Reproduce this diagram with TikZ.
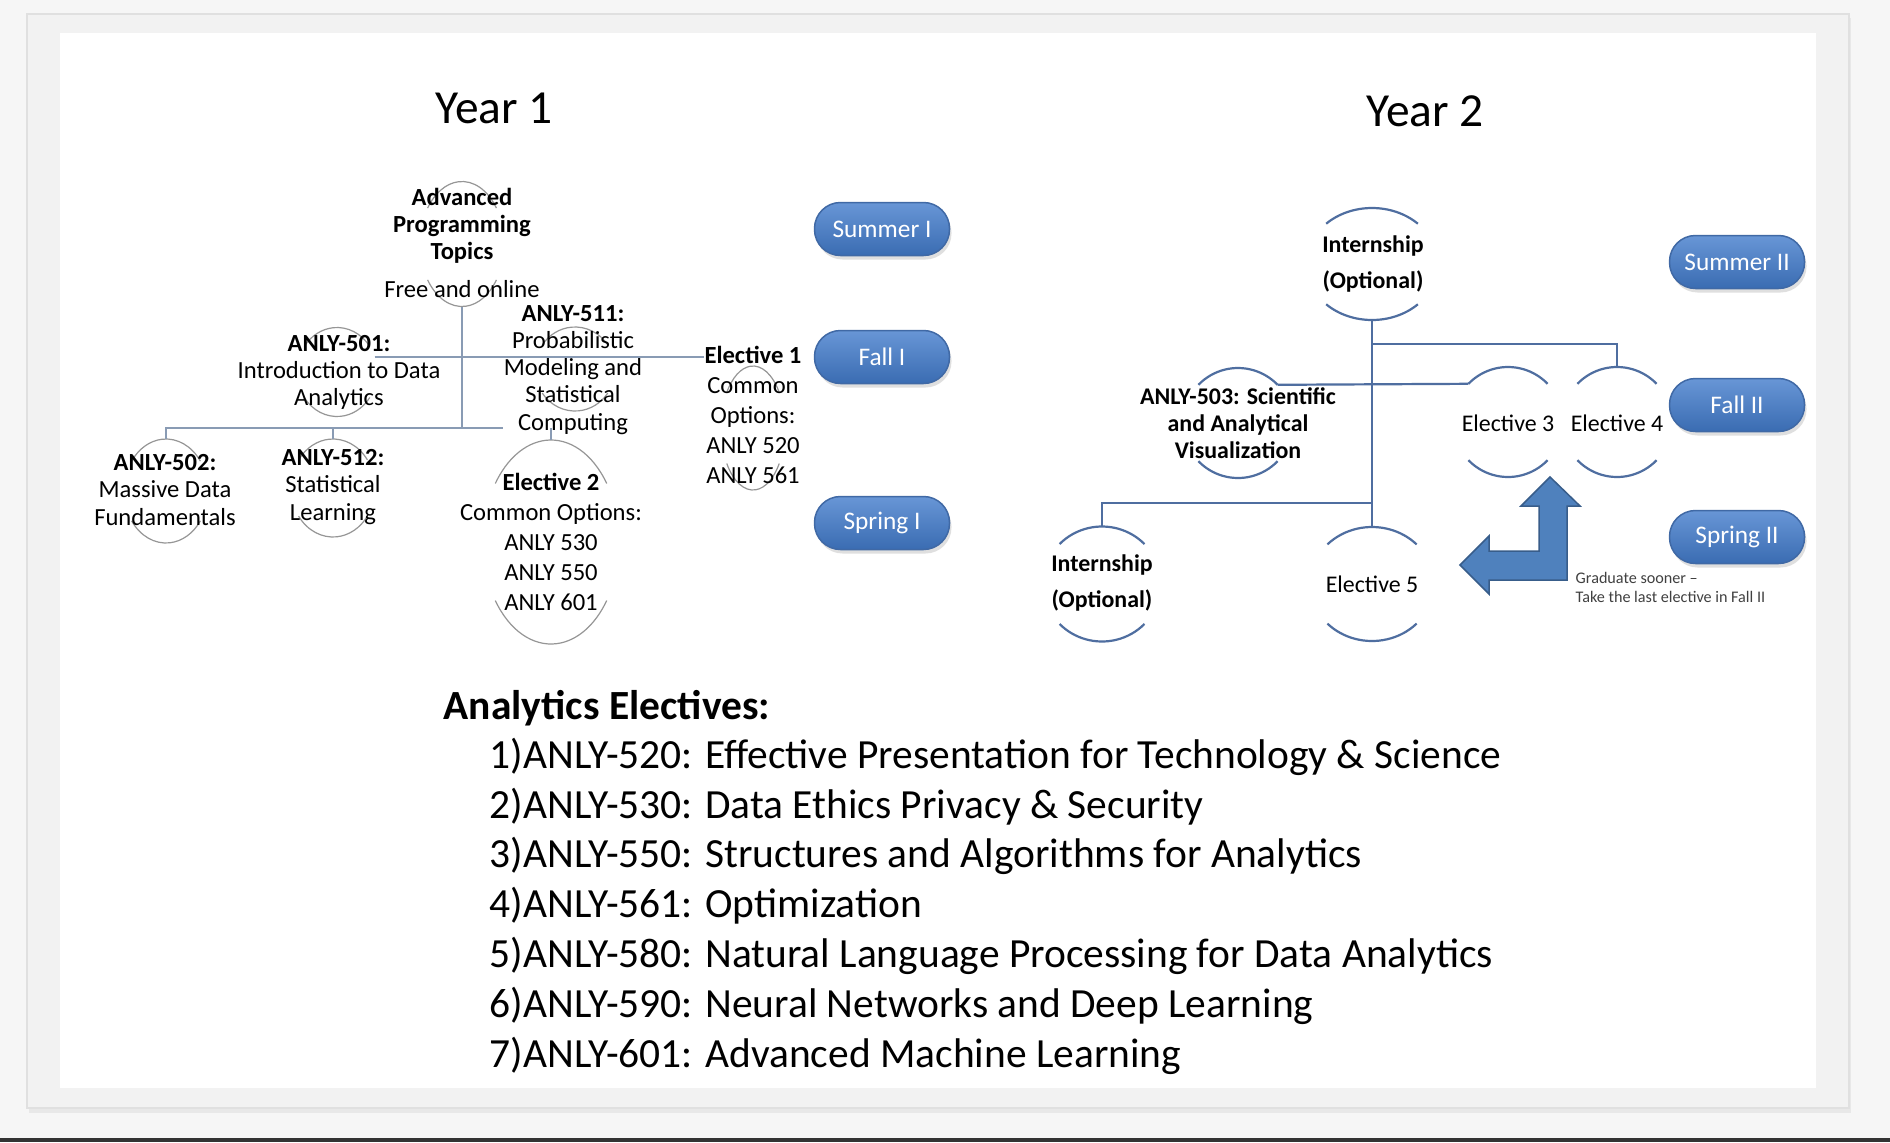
\documentclass[tikz,border=0pt]{standalone}
\usepackage{fontspec}
\setmainfont{Carlito}
\usetikzlibrary{shapes.geometric, shadows}
\definecolor{pagebg}{RGB}{246,246,246}
\definecolor{cardgrey}{RGB}{242,242,242}
\definecolor{treegrey}{RGB}{137,155,180}
\definecolor{arcgrey}{RGB}{150,150,150}
\definecolor{linkblue}{RGB}{79,110,160}
\definecolor{pilltop}{RGB}{104,150,214}
\definecolor{pillbot}{RGB}{58,108,178}
\definecolor{pillrim}{RGB}{64,105,165}
\definecolor{arrowblue}{RGB}{79,129,189}
\definecolor{arrowrim}{RGB}{56,93,138}

\begin{document}
\begin{tikzpicture}[x=0.1mm, y=-0.1mm,
    oval/.style={ellipse, draw=none, inner sep=0pt, outer sep=0pt},
    y1arc/.style={draw=arcgrey, line width=0.12mm},
    y2arc/.style={draw=linkblue, line width=0.22mm},
    y1link/.style={draw=treegrey, line width=0.2mm},
    y2link/.style={draw=linkblue, line width=0.22mm},
    y1txt/.style={align=center, inner sep=0pt, font=\fontsize{7pt}{#1}\selectfont},
    y1txt/.default=7.7pt,
    y2txt/.style={align=center, inner sep=0pt, font=\fontsize{6.8pt}{#1}\selectfont},
    y2txt/.default=7.7pt,
    title/.style={inner sep=0pt, font=\fontsize{13.5pt}{16pt}\selectfont},
    term/.style={rectangle, rounded corners=2.6mm, minimum width=13.5mm, minimum height=5.3mm,
      inner sep=0pt, top color=pilltop, bottom color=pillbot, draw=pillrim, line width=0.15mm,
      text=white, font=\fontsize{7.2pt}{8pt}\selectfont,
      drop shadow={opacity=0.25, shadow xshift=0.2mm, shadow yshift=-0.4mm}},
    note/.style={align=left, inner sep=0pt, text=black!75, font=\fontsize{4.6pt}{5.4pt}\selectfont},
    listing/.style={align=left, inner sep=0pt, font=\fontsize{11.8pt}{14.17pt}\selectfont}]

    % name, centre, half width, half height, arc style, arc angle
    \def\ovalnode#1#2#3#4#5#6{%
      \node[oval, minimum width=2*#3, minimum height=2*#4] (#1) at (#2) {};
      \draw[#5] (#1.center) ++(#6:#3 and #4) arc[start angle=#6, end angle=180-#6, x radius=#3, y radius=#4];
      \draw[#5] (#1.center) ++(180+#6:#3 and #4) arc[start angle=180+#6, end angle=360-#6, x radius=#3, y radius=#4];
    }

    % page, card and slide
    \useasboundingbox (0,0) rectangle (1890,1142);
    \fill[pagebg] (0,0) rectangle (1890,1142);
    \fill[black!9] (29,18) rectangle (1851,1113);
    \filldraw[fill=cardgrey, draw=black!12] (27,14) rectangle (1849,1108);
    \fill[white] (60,33) rectangle (1816,1088);
    \fill[black!80] (0,1138) rectangle (1890,1142);

    % titles
    \node[title] (yr1) at (494,108) {Year 1};
    \node[title] (yr2) at (1425,111) {Year 2};

    % Year 1 ovals
    \ovalnode{advE}{462,244}{4.2mm}{6.25mm}{y1arc}{35}
    \ovalnode{a501E}{337,372}{4mm}{4.45mm}{y1arc}{35}
    \ovalnode{a511E}{575,369}{4mm}{4.2mm}{y1arc}{35}
    \ovalnode{el1E}{753,428}{3.2mm}{6.2mm}{y1arc}{35}
    \ovalnode{a502E}{166,491}{4.2mm}{5.2mm}{y1arc}{35}
    \ovalnode{a512E}{333,488}{4.2mm}{4.9mm}{y1arc}{35}
    \ovalnode{el2E}{551,542}{6.8mm}{10.2mm}{y1arc}{35}

    % Year 1 text
    \node[y1txt] (advT) at (462,243) {\textbf{Advanced}\\\textbf{Programming}\\\textbf{Topics}\\[1.15mm]Free and online};
    \node[y1txt] (a501T) at (339,372) {\textbf{ANLY-501:}\\Introduction to Data\\Analytics};
    \node[y1txt] (a511T) at (573,370) {\textbf{ANLY-511:}\\Probabilistic\\Modeling and\\Statistical\\Computing};
    \node[y1txt=8.5pt] (el1T) at (753,415) {\textbf{Elective 1}\\Common\\Options:\\ANLY 520\\ANLY 561};
    \node[y1txt] (a502T) at (165,490) {\textbf{ANLY-502:}\\Massive Data\\Fundamentals};
    \node[y1txt] (a512T) at (333,487) {\textbf{ANLY-512:}\\Statistical\\Learning};
    \node[y1txt=8.5pt] (el2T) at (551,542) {\textbf{Elective 2}\\Common Options:\\ANLY 530\\ANLY 550\\ANLY 601};

    % Year 1 links
    \coordinate (bus1) at (462,428);
    \draw[y1link] (advE.south) -- (bus1);
    \draw[y1link] (a501E.22) -- (el1T.west |- a501E.22);
    \draw[y1link] (a502E.north) |- (a511T.west |- bus1);
    \draw[y1link] (a512E.north) -- (a512E.north |- bus1);
    \draw[y1link] (el2E.north) -- ++(0,-12);

    % Year 2 ovals
    \ovalnode{i1E}{1372,264}{6.6mm}{5.6mm}{y2arc}{46}
    \ovalnode{a503E}{1238,423}{5.5mm}{5.5mm}{y2arc}{44}
    \ovalnode{e3E}{1508,422}{5.5mm}{5.5mm}{y2arc}{44}
    \ovalnode{e4E}{1617,422}{5.5mm}{5.5mm}{y2arc}{44}
    \ovalnode{i2E}{1102,584}{5.9mm}{5.75mm}{y2arc}{44}
    \ovalnode{e5E}{1372,584}{6.2mm}{5.7mm}{y2arc}{44}

    % Year 2 links
    \coordinate (t2a) at (1372,344);
    \coordinate (t2b) at (1372,503);
    \draw[y2link] (i1E.south) -- (e5E.north);
    \draw[y2link] (t2a) -| (e4E.north);
    \draw[y2link] (a503E.44) -- (e3E.136);
    \draw[y2link] (t2b) -| (i2E.north);

    % Year 2 text
    \node[y2txt=10.5pt] (i1T) at (1373,264) {\textbf{Internship}\\\textbf{(Optional)}};
    \node[y2txt] (a503T) at (1238,423) {\textbf{ANLY-503: Scientific}\\\textbf{and Analytical}\\\textbf{Visualization}};
    \node[y2txt] (e3T) at (1508,423) {Elective 3};
    \node[y2txt] (e4T) at (1617,423) {Elective 4};
    \node[y2txt=10.5pt] (i2T) at (1102,583) {\textbf{Internship}\\\textbf{(Optional)}};
    \node[y2txt] (e5T) at (1372,584) {Elective 5};

    % semesters
    \node[term] (su1) at (882,229) {Summer I};
    \node[term] (fa1) at (882,357) {Fall I};
    \node[term] (sp1) at (882,523) {Spring I};
    \node[term] (su2) at (1737,262) {Summer II};
    \node[term] (fa2) at (1737,405) {Fall II};
    \node[term] (sp2) at (1737,537) {Spring II};

    % bent arrow and its note
    \filldraw[fill=arrowblue, draw=arrowrim, line width=0.15mm]
      (1550,477) -- (1580,506) -- (1567,506) -- (1567,580) -- (1489,580) -- (1489,594)
      -- (1460,565) -- (1489,536) -- (1489,551) -- (1539,551) -- (1539,506) -- (1521,506) -- cycle;
    \node[note, anchor=west] (grad) at (1575,587) {Graduate sooner –\\Take the last elective in Fall II};

    % electives list
    \node[listing, anchor=west] (elHead) at (443,708) {\textbf{Analytics Electives:}};
    \node[listing, anchor=west] (elList) at (489,906) {1)ANLY-520: Effective Presentation for Technology \& Science\\
      2)ANLY-530: Data Ethics Privacy \& Security\\
      3)ANLY-550: Structures and Algorithms for Analytics\\
      4)ANLY-561: Optimization\\
      5)ANLY-580: Natural Language Processing for Data Analytics\\
      6)ANLY-590: Neural Networks and Deep Learning\\
      7)ANLY-601: Advanced Machine Learning};

\end{tikzpicture}
\end{document}
